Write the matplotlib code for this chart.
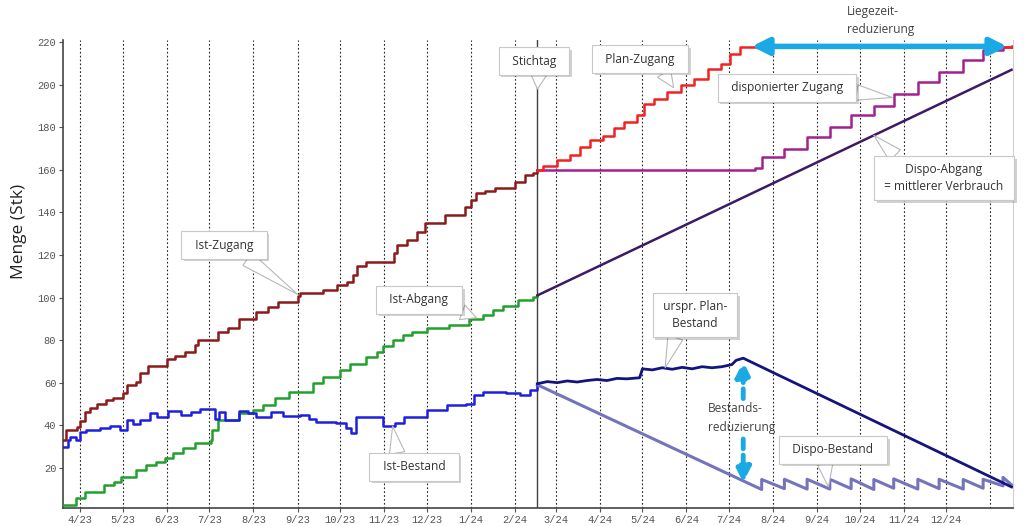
import matplotlib
matplotlib.use("Agg")
import matplotlib.pyplot as plt
import pandas as pd
from matplotlib import patheffects

# ---------------- data ----------------
stichtag = "2024-02-17"
x_start, x_end = "2023-03-20", "2025-01-17"

ist_zugang_dates = ["2023-03-20", "2023-03-22", "2023-03-30", "2023-04-01", "2023-04-04", "2023-04-08",
                    "2023-04-13", "2023-04-19", "2023-04-24", "2023-05-01", "2023-05-04", "2023-05-10",
                    "2023-05-13", "2023-05-19", "2023-06-01", "2023-06-07", "2023-06-14", "2023-06-21",
                    "2023-06-23", "2023-07-07", "2023-07-14", "2023-07-22", "2023-08-03", "2023-08-11",
                    "2023-08-18", "2023-09-01", "2023-09-03", "2023-09-19", "2023-09-29", "2023-10-06",
                    "2023-10-10", "2023-10-13", "2023-10-19", "2023-11-08", "2023-11-10", "2023-11-17",
                    "2023-11-24", "2023-11-30", "2023-12-14", "2023-12-28", "2024-01-01", "2024-01-05",
                    "2024-01-11", "2024-01-18", "2024-02-01", "2024-02-08", "2024-02-14", "2024-02-17"]
ist_zugang_values = [33, 37.6, 39, 42, 46, 48, 50, 51.8, 53, 55, 59, 60.5, 64.5, 68, 71, 72.5, 74.5, 77.7,
                     80, 84, 85.5, 90, 93.3, 95.6, 98, 100.5, 102, 103.5, 105.8, 107.4, 110.5, 115, 116.5,
                     120.7, 124.6, 127, 131, 134.8, 138.7, 142.6, 145.7, 148.9, 150.1, 151.7, 154.3, 157.5,
                     158.6, 160]

ist_abgang_dates = ["2023-03-20", "2023-03-29", "2023-04-04", "2023-04-18", "2023-04-25", "2023-04-30",
                    "2023-05-10", "2023-05-17", "2023-05-24", "2023-05-31", "2023-06-05", "2023-06-12",
                    "2023-06-21", "2023-07-02", "2023-07-03", "2023-07-07", "2023-07-22", "2023-08-01",
                    "2023-08-08", "2023-08-16", "2023-08-26", "2023-09-12", "2023-09-19", "2023-10-01",
                    "2023-10-08", "2023-10-19", "2023-10-27", "2023-10-31", "2023-11-07", "2023-11-14",
                    "2023-11-21", "2023-12-01", "2023-12-17", "2023-12-31", "2024-01-10", "2024-01-17",
                    "2024-01-24", "2024-02-03", "2024-02-14", "2024-02-17"]
ist_abgang_values = [2.5, 5.8, 8.8, 12, 13.5, 15.8, 19, 21.3, 22.5, 24.5, 26.8, 29.1, 31.5, 33, 37.7, 42.4,
                     45.6, 47, 49.5, 53, 55.7, 59.8, 62.8, 66, 69, 72, 74.5, 77, 80, 82.3, 83.9, 85.5, 87,
                     90, 92, 94, 96, 98.8, 100.3, 101]

ist_bestand_dates = ["2023-03-20", "2023-03-23", "2023-03-25", "2023-03-29", "2023-04-01", "2023-04-05",
                     "2023-04-15", "2023-04-22", "2023-04-29", "2023-05-04", "2023-05-08", "2023-05-13",
                     "2023-05-20", "2023-05-25", "2023-06-02", "2023-06-11", "2023-06-18", "2023-06-24",
                     "2023-07-05", "2023-07-08", "2023-07-12", "2023-07-22", "2023-07-28", "2023-08-03",
                     "2023-08-13", "2023-08-22", "2023-09-03", "2023-09-09", "2023-09-14", "2023-09-28",
                     "2023-10-05", "2023-10-09", "2023-10-12", "2023-10-31", "2023-11-09", "2023-11-15",
                     "2023-12-01", "2023-12-15", "2023-12-29", "2024-01-03", "2024-01-10", "2024-01-26",
                     "2024-02-05", "2024-02-12", "2024-02-17"]
ist_bestand_values = [30, 33, 34.6, 33, 37, 37.7, 38.5, 39.5, 37.7, 42.4, 40.7, 42.4, 45.9, 43.8, 46.8, 45,
                      46, 47.4, 43, 46, 42.4, 46.7, 45.6, 43.7, 46, 44.4, 44.8, 42.7, 41.5, 41, 38.5, 36.5,
                      44, 39.7, 41, 44, 47, 49.5, 50, 54.2, 55.7, 55.2, 54.2, 56.6, 59]

plan_zugang_dates = ["2024-02-17", "2024-02-21", "2024-03-02", "2024-03-11", "2024-03-18", "2024-03-25",
                     "2024-04-03", "2024-04-11", "2024-04-18", "2024-04-27", "2024-05-02", "2024-05-09",
                     "2024-05-18", "2024-05-28", "2024-06-06", "2024-06-16", "2024-06-25", "2024-07-02",
                     "2024-07-09", "2025-01-16"]
plan_zugang_values = [160, 162, 164.5, 166.8, 170.8, 174, 176, 179.5, 182.5, 185.6, 191, 193.5, 196.6,
                      199.7, 202.9, 207.6, 209.9, 214.6, 217.7, 218]

dispo_zugang_dates = ["2024-02-17", "2024-07-19", "2024-07-24", "2024-08-09", "2024-08-25", "2024-09-10",
                      "2024-09-25", "2024-10-11", "2024-10-25", "2024-11-11", "2024-11-26", "2024-12-13",
                      "2024-12-27", "2025-01-10", "2025-01-16"]
dispo_zugang_values = [160, 161, 166, 170, 175.4, 180, 185.6, 190, 195.8, 201.3, 206, 211.5, 216.2,
                       217.8, 217.8]

dispo_abgang_dates = ["2024-02-17", "2025-01-16"]
dispo_abgang_values = [101, 207]

plan_bestand_dates = ["2024-02-17", "2024-02-24", "2024-03-02", "2024-03-09", "2024-03-16", "2024-03-23",
                      "2024-03-30", "2024-04-06", "2024-04-13", "2024-04-20", "2024-04-29", "2024-05-01",
                      "2024-05-08", "2024-05-15", "2024-05-22", "2024-05-29", "2024-06-05", "2024-06-12",
                      "2024-06-19", "2024-06-26", "2024-07-03", "2024-07-06", "2024-07-11", "2025-01-16"]
plan_bestand_values = [59.5, 60.5, 60, 60.8, 60.3, 61, 61.5, 61, 62, 61.8, 62.3, 66.5, 66, 67, 66.3, 67.2,
                       66.5, 67.5, 67, 67.5, 68.5, 70.5, 71.5, 11]

dispo_bestand_dates = ["2024-02-17", "2024-07-24", "2024-07-24", "2024-08-09", "2024-08-09", "2024-08-25",
                       "2024-08-25", "2024-09-10", "2024-09-10", "2024-09-25", "2024-09-25", "2024-10-11",
                       "2024-10-11", "2024-10-25", "2024-10-25", "2024-11-11", "2024-11-11", "2024-11-26",
                       "2024-11-26", "2024-12-13", "2024-12-13", "2024-12-27", "2024-12-27", "2025-01-10",
                       "2025-01-10", "2025-01-16"]
dispo_bestand_values = [59, 9.8, 14.5, 10.2, 14.6, 10, 14.6, 10, 14.6, 10.2, 14.8, 9.8, 14.5, 10.4, 14.8,
                        10, 14.6, 10.2, 14.6, 10, 14.5, 10.4, 14.6, 11.5, 15.5, 12]

month_ticks = pd.date_range("2023-04-01", "2024-12-01", freq="MS")
grid_months = pd.date_range("2023-04-01", "2025-01-01", freq="MS")
tick_labels = [f"{d.month}/{d.strftime('%y')}" for d in month_ticks]
y_ticks = [20, 40, 60, 80, 100, 120, 140, 160, 180, 200, 220]

# ---------------- style ----------------
SANS = ["Open Sans", "DejaVu Sans"]
MONO = ["Liberation Mono", "DejaVu Sans Mono"]
C_IST_Z = "#8C1A1A"
C_IST_A = "#22A02E"
C_IST_B = "#1E1EE0"
C_PLAN_Z = "#F02222"
C_DISPO_Z = "#A3208F"
C_DISPO_A = "#3C1A64"
C_PLAN_B = "#14147F"
C_DISPO_B = "#7474BC"
C_CYAN = "#1BA9E6"
FS = 8.6

D = pd.to_datetime

fig = plt.figure(figsize=(10.24, 5.26), dpi=100)
ax = fig.add_axes([0.0618, 0.0342, 0.9274, 0.8897])
ax.set_xlim(D(x_start), D(x_end))
ax.set_ylim(1.1, 221)

for g in grid_months:
    ax.axvline(g, color="#222222", ls=(0, (1.5, 2)), lw=0.8, zorder=1)
ax.axvline(D(stichtag), color="#404040", lw=1.0, zorder=2)

lw = 1.8
ax.plot(D(ist_zugang_dates), ist_zugang_values, drawstyle="steps-post", color=C_IST_Z, lw=lw, zorder=3)
ax.plot(D(ist_abgang_dates), ist_abgang_values, drawstyle="steps-post", color=C_IST_A, lw=lw, zorder=3)
ax.plot(D(ist_bestand_dates), ist_bestand_values, drawstyle="steps-post", color=C_IST_B, lw=lw, zorder=3)
ax.plot(D(dispo_zugang_dates), dispo_zugang_values, drawstyle="steps-post", color=C_DISPO_Z, lw=lw, zorder=3)
ax.plot(D(plan_zugang_dates), plan_zugang_values, drawstyle="steps-post", color=C_PLAN_Z, lw=lw, zorder=4)
ax.plot(D(dispo_abgang_dates), dispo_abgang_values, color=C_DISPO_A, lw=lw, zorder=3)
ax.plot(D(dispo_bestand_dates), dispo_bestand_values, color=C_DISPO_B, lw=2.2, zorder=3)
ax.plot(D(plan_bestand_dates), plan_bestand_values, color=C_PLAN_B, lw=2.0, zorder=4)

# axes styling
ax.set_xticks(month_ticks)
ax.set_xticklabels(tick_labels, family=MONO, fontsize=7.5, color="#555555")
ax.set_yticks(y_ticks)
ax.set_yticklabels([str(v) for v in y_ticks], family=MONO, fontsize=7.5, color="#555555")
ax.tick_params(axis="both", length=3, width=0.8, color="#555555", pad=2)
ax.spines["top"].set_visible(False)
ax.spines["right"].set_color("#d0d0d0")
ax.spines["right"].set_linewidth(0.8)
ax.spines["left"].set_color("#444444")
ax.spines["bottom"].set_color("#444444")
ax.spines["left"].set_linewidth(1.2)
ax.spines["bottom"].set_linewidth(1.2)
ax.set_ylabel("Menge (Stk)", family=SANS, fontsize=12.5, color="#222222")
ax.yaxis.set_label_coords(-0.038, 0.59)

# ---------------- callouts ----------------
def callout(text, xy, center_px, relpos=(0.5, 0.5), tw=1.3, side_pad="  "):
    padded = "\n".join(side_pad + line + side_pad for line in text.split("\n"))
    ann = ax.annotate(padded, xy=(D(xy[0]), xy[1]), xycoords="data",
                      xytext=(center_px[0], 526 - center_px[1]), textcoords="figure pixels",
                      ha="center", va="center", fontsize=FS, family=SANS, color="#333333",
                      linespacing=1.4, multialignment="center",
                      bbox=dict(boxstyle="square,pad=0.6", fc="white", ec="#c8c8c8", lw=0.8),
                      arrowprops=dict(arrowstyle=f"wedge,tail_width={tw}", fc="white", ec="#b8b8b8",
                                      lw=0.8, shrinkA=0, shrinkB=0, relpos=relpos),
                      zorder=10, annotation_clip=False)
    ann.get_bbox_patch().set_path_effects([
        patheffects.SimplePatchShadow(offset=(2, -2), alpha=0.18, shadow_rgbFace="k"),
        patheffects.Normal()])
    return ann

callout("Stichtag", (stichtag, 198), (534, 61), relpos=(0.6, 0.3))
callout("Plan-Zugang", ("2024-05-23", 198.6), (640, 59), relpos=(0.7, 0.3))
callout("disponierter Zugang", ("2024-10-24", 194), (787, 88), relpos=(0.8, 0.5))
callout("Dispo-Abgang\n= mittlerer Verbrauch", ("2024-10-11", 176.2), (944, 178), relpos=(0.25, 0.7),
        side_pad=" ")
callout("Ist-Zugang", ("2023-09-01", 101.5), (224, 245), relpos=(0.6, 0.3))
callout("Ist-Abgang", ("2024-01-05", 90.5), (419, 300), relpos=(0.75, 0.3))
callout("Ist-Bestand", ("2023-11-07", 39.5), (414, 467), relpos=(0.3, 0.7))
callout("urspr. Plan-\nBestand", ("2024-05-17", 67), (695, 315), relpos=(0.3, 0.3), side_pad=" ")
callout("Dispo-Bestand", ("2024-09-09", 11), (833, 450), relpos=(0.4, 0.3))

# ---------------- arrows & free text ----------------
arrow_x = D("2024-07-11")
dash = (0, (2.0, 1.3))
ax.annotate("", xy=(arrow_x, 70.0), xytext=(arrow_x, 52.5), xycoords="data",
            arrowprops=dict(arrowstyle="-|>,head_width=0.45,head_length=0.9", color=C_CYAN, lw=3.5,
                            ls=dash, shrinkA=0, shrinkB=0), zorder=6)
ax.annotate("", xy=(arrow_x, 13.0), xytext=(arrow_x, 33.5), xycoords="data",
            arrowprops=dict(arrowstyle="-|>,head_width=0.45,head_length=0.9", color=C_CYAN, lw=3.5,
                            ls=dash, shrinkA=0, shrinkB=0), zorder=6)
fig.text(708, 526 - 418, "Bestands-\nreduzierung", transform=None, ha="left", va="center",
         fontsize=FS, family=SANS, color="#444444", linespacing=1.5)

ax.annotate("", xy=(D("2024-07-17"), 218), xytext=(D("2025-01-13"), 218), xycoords="data",
            arrowprops=dict(arrowstyle="<|-|>,head_width=0.5,head_length=1.0", color=C_CYAN, lw=4,
                            shrinkA=0, shrinkB=0), zorder=6, annotation_clip=False)
fig.text(847, 526 - 21, "Liegezeit-\nreduzierung", transform=None, ha="left", va="center",
         fontsize=FS, family=SANS, color="#444444", linespacing=1.5)

fig.savefig("out.png", dpi=100)
